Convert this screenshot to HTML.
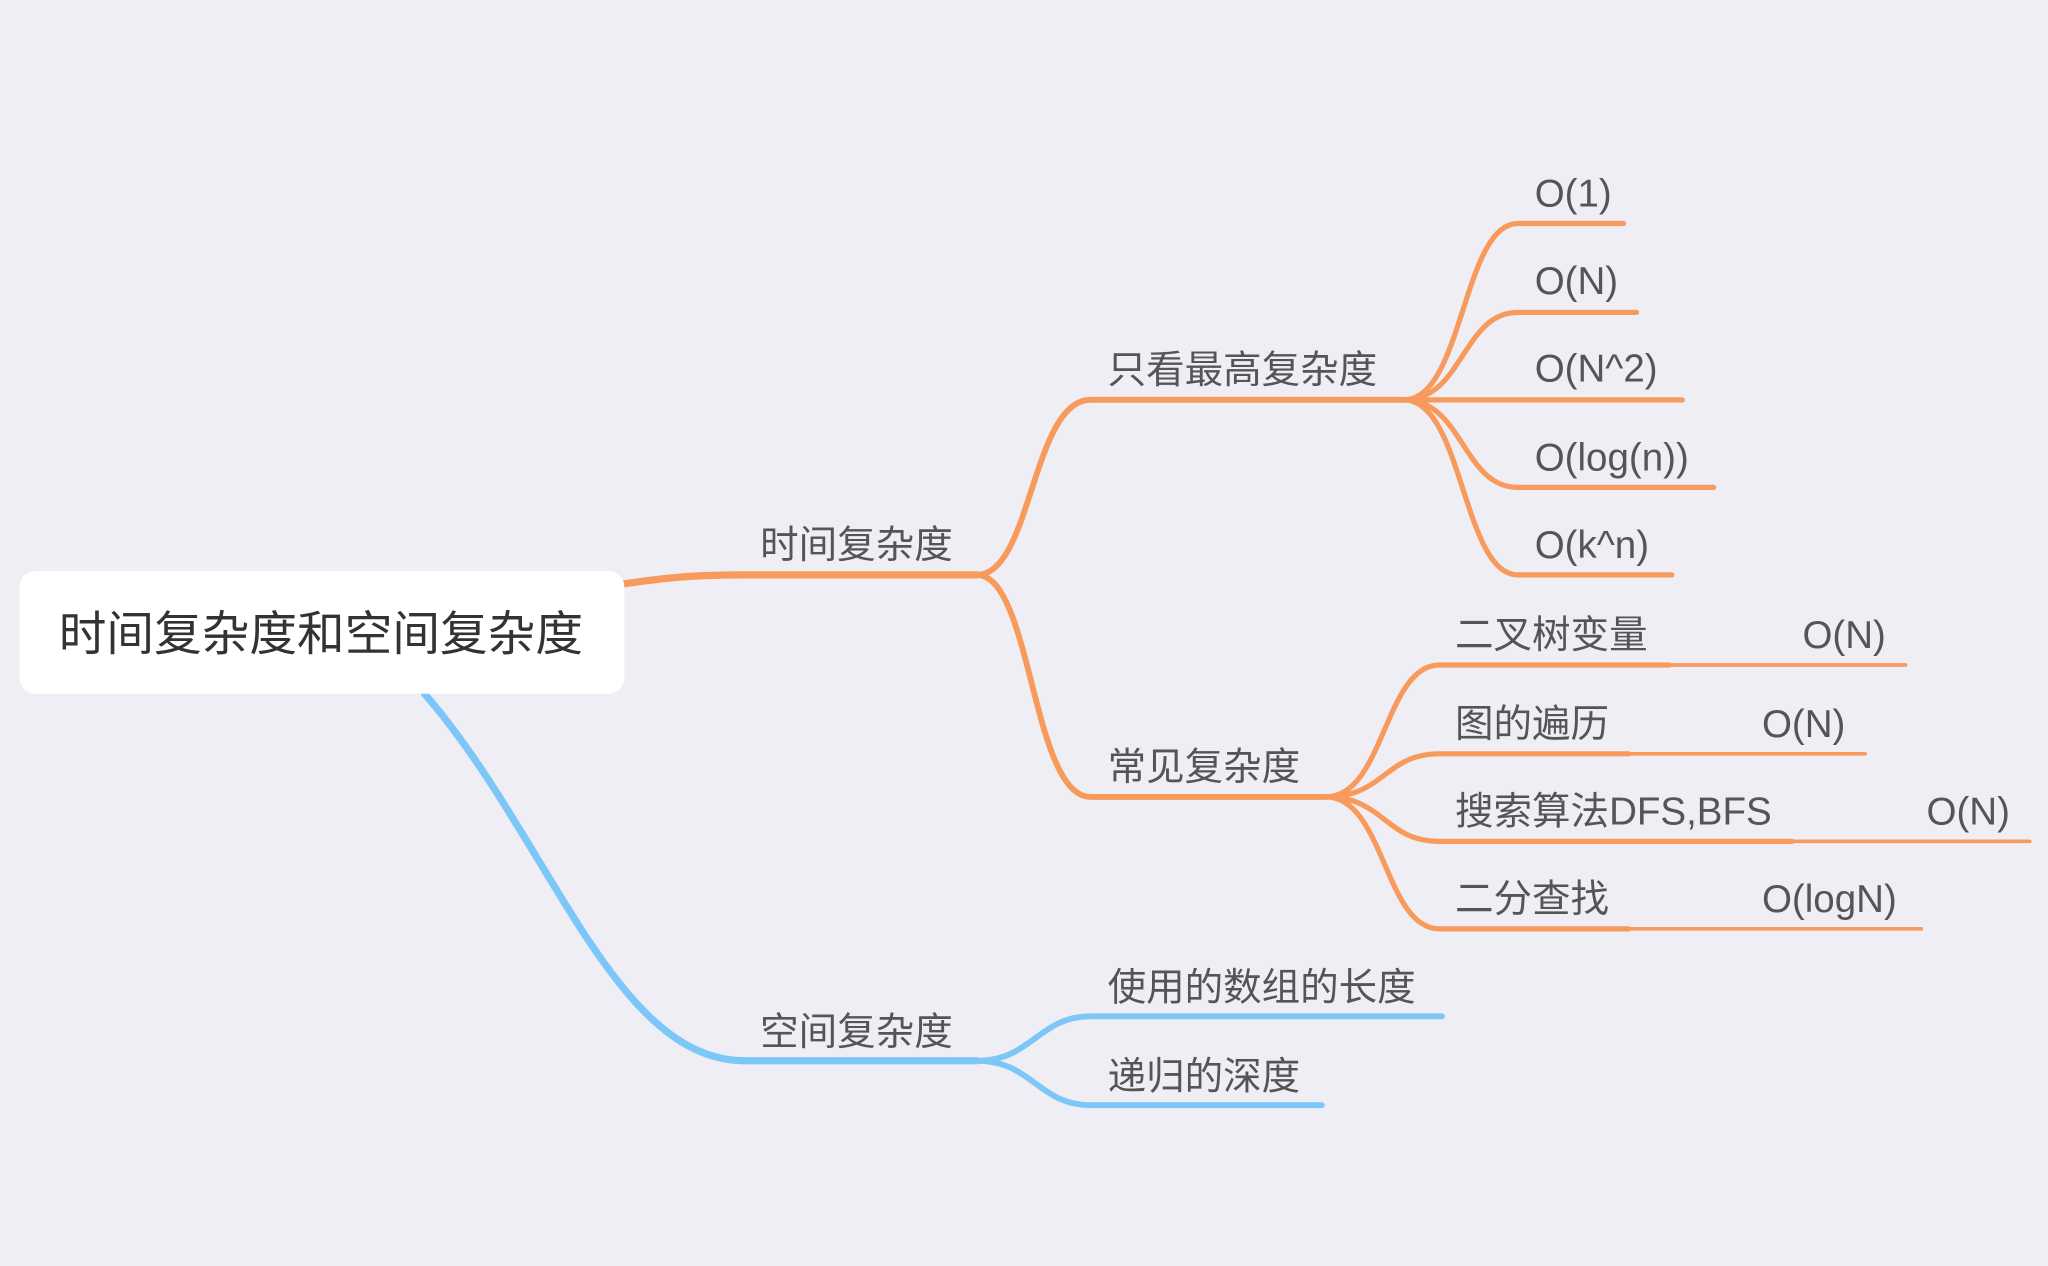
<!DOCTYPE html>
<html><head><meta charset="utf-8"><style>
html,body{margin:0;padding:0;background:#efeef4;}
svg{display:block;}
text{font-family:"Liberation Sans","Noto Sans CJK SC",sans-serif;fill:#555;}
</style></head><body>
<svg width="2048" height="1266" viewBox="0 0 1568 969" xmlns="http://www.w3.org/2000/svg">
<rect width="1568" height="969" fill="#efeef4"/>
<g fill="none" stroke-linecap="round">
<path d="M325,531 C420,640 470,812 570,812 L748,812" stroke="#7cc6f8" stroke-width="5.5"/>
<path d="M748,812 C790,812 795,778 835,778 L1104,778" stroke="#7cc6f8" stroke-width="4.5"/>
<path d="M748,812 C790,812 795,846 835,846 L1012,846" stroke="#7cc6f8" stroke-width="4.5"/>
<path d="M470,448 C510,442 530,440 570,440 L748,440" stroke="#f79a5c" stroke-width="5.5"/>
<path d="M748,440 C790,440 790,306 835,306 L1075,306" stroke="#f79a5c" stroke-width="4.5"/>
<path d="M748,440 C790,440 790,610 835,610 L1015,610" stroke="#f79a5c" stroke-width="4.5"/>
<g stroke="#f79a5c" stroke-width="4">
<path d="M1075,306 C1120,306 1120,171 1162,171 L1243,171"/>
<path d="M1075,306 C1120,306 1120,239 1162,239 L1253,239"/>
<path d="M1075,306 L1288,306"/>
<path d="M1075,306 C1120,306 1120,373 1162,373 L1312,373"/>
<path d="M1075,306 C1120,306 1120,440 1162,440 L1280,440"/>
<path d="M1015,610 C1060,610 1060,509 1102,509 L1278,509"/>
<path d="M1015,610 C1060,610 1060,577 1102,577 L1247,577"/>
<path d="M1015,610 C1060,610 1060,644 1102,644 L1372,644"/>
<path d="M1015,610 C1060,610 1060,711 1102,711 L1247,711"/>
</g>
<g stroke="#f79a5c" stroke-width="2.8">
<path d="M1278,509 L1459,509"/>
<path d="M1247,577 L1428,577"/>
<path d="M1372,644 L1554,644"/>
<path d="M1247,711 L1471,711"/>
</g>
</g>
<rect x="15" y="437" width="463" height="94" rx="12" fill="#fff"/>
<text x="45" y="498" font-size="36.5" style="fill:#333">时间复杂度和空间复杂度</text>
<g font-size="29.5">
<text x="582" y="427">时间复杂度</text>
<text x="582" y="800">空间复杂度</text>
<text x="848" y="293">只看最高复杂度</text>
<text x="848" y="597">常见复杂度</text>
<text x="848" y="766">使用的数组的长度</text>
<text x="848" y="834">递归的深度</text>
<text x="1175" y="158">O(1)</text>
<text x="1175" y="225">O(N)</text>
<text x="1175" y="292">O(N^2)</text>
<text x="1175" y="360">O(log(n))</text>
<text x="1175" y="427">O(k^n)</text>
<text x="1114" y="496">二叉树变量</text>
<text x="1380" y="496">O(N)</text>
<text x="1114" y="564">图的遍历</text>
<text x="1349" y="564">O(N)</text>
<text x="1114" y="631">搜索算法DFS,BFS</text>
<text x="1475" y="631">O(N)</text>
<text x="1114" y="698">二分查找</text>
<text x="1349" y="698">O(logN)</text>
</g>
</svg>
</body></html>
